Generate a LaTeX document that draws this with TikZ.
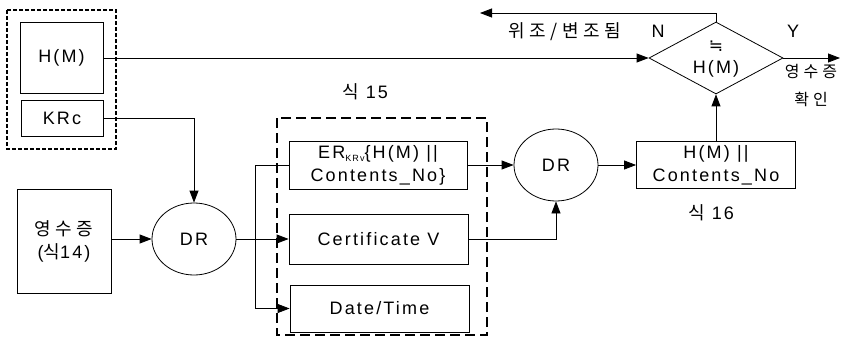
\documentclass[tikz,border=0pt]{standalone}
\usepackage{fontspec}
\setmainfont[LetterSpace=12]{Liberation Sans}
\newfontfamily\kr[LetterSpace=25]{Noto Sans CJK KR}
\newfontfamily\dejavu{DejaVu Sans}
\usetikzlibrary{arrows.meta,shapes.geometric}
\begin{document}
\begin{tikzpicture}[x=1pt,y=-1pt,
  every node/.style={font=\fontsize{18}{23}\selectfont},
  box/.style={draw, line width=0.8pt, inner sep=0pt, align=center},
  circ/.style={draw, ellipse, line width=0.8pt, inner sep=0pt, minimum width=84pt, minimum height=72pt},
  arr/.style={-{Triangle[length=12pt,width=9pt]}, line width=0.8pt},
  ln/.style={line width=0.8pt},
  lbl/.style={inner sep=0pt, align=center}
]
\useasboundingbox (0,0) rectangle (844,337);
% left group
\node[box, minimum width=83pt, minimum height=71pt] (hm) at (61.5,58) {H(M)};
\node[box, minimum width=82pt, minimum height=36pt] (krc) at (62,118) {KRc};
\draw[dash pattern=on 4pt off 2pt, line width=1.4pt] (7,10) rectangle (116,149);
\node[box, minimum width=94pt, minimum height=104pt] (rcpt) at (64,241) {{\kr 영수증}\\({\kr 식}14)};
\node[circ] (dr1) at (194,239) {DR};
% middle group
\node[box, minimum width=178pt, minimum height=48pt] (er) at (378,165)
  {ER\raisebox{-0.4ex}{\fontsize{9}{9}\selectfont KRv}\{H(M) ||\\Contents\_No\}};
\node[box, minimum width=179pt, minimum height=50pt] (cert) at (378.5,239) {Certificate V};
\node[box, minimum width=179pt, minimum height=47pt] (date) at (379.5,308.5) {Date/Time};
\draw[dash pattern=on 10pt off 5pt, line width=2.4pt] (277,118) rectangle (487,335);
\node[lbl] (eq15) at (365,92) {{\kr 식} 15};
% right group
\node[circ] (dr2) at (556,165) {DR};
\node[box, minimum width=159pt, minimum height=47pt] (hc) at (716,165) {H(M) ||\\Contents\_No};
\node[lbl] (eq16) at (711,213) {{\kr 식} 16};
\node[draw, diamond, line width=0.8pt, inner sep=0pt, minimum width=134pt, minimum height=72pt] (dia) at (716,58) {};
\node[lbl, font=\fontsize{17}{17}\selectfont\dejavu] (approx) at (716,46) {≒};
\node[lbl] (diah) at (716,69) {H(M)};
\node[lbl] (ylab) at (793,31) {Y};
\node[lbl] (nlab) at (658,31) {N};
\node[lbl, font=\fontsize{16}{28}\selectfont] (ok) at (811,86) {{\kr 영수증}\\{\kr 확인}};
\node[lbl] (forged) at (565,32) {{\kr 위조/변조됨}};
\coordinate (yend) at (840,58);
\coordinate (nend) at (480,13);
\coordinate (br) at (255,239);
% connectors
\draw[arr] (hm.east) -- (dia.west);
\draw[arr] (krc.east) -| (dr1.north);
\draw[arr] (dr1.west -| rcpt.east) -- (dr1.west);
\draw[ln] (dr1.east) -- (br);
\draw[ln] (br |- er.west) -- (br |- date.west);
\draw[ln] (br |- er.west) -- (er.west);
\draw[arr] (br) -- (cert.west);
\draw[arr] (br |- date.west) -- (date.west);
\draw[arr] (er.east) -- (dr2.west);
\draw[arr] (cert.east) -| (dr2.south);
\draw[arr] (dr2.east) -- (hc.west);
\draw[arr] (hc.north) -- (dia.south);
\draw[arr] (dia.east) -- (yend);
\draw[arr] (dia.north) |- (nend);
\end{tikzpicture}
\end{document}
